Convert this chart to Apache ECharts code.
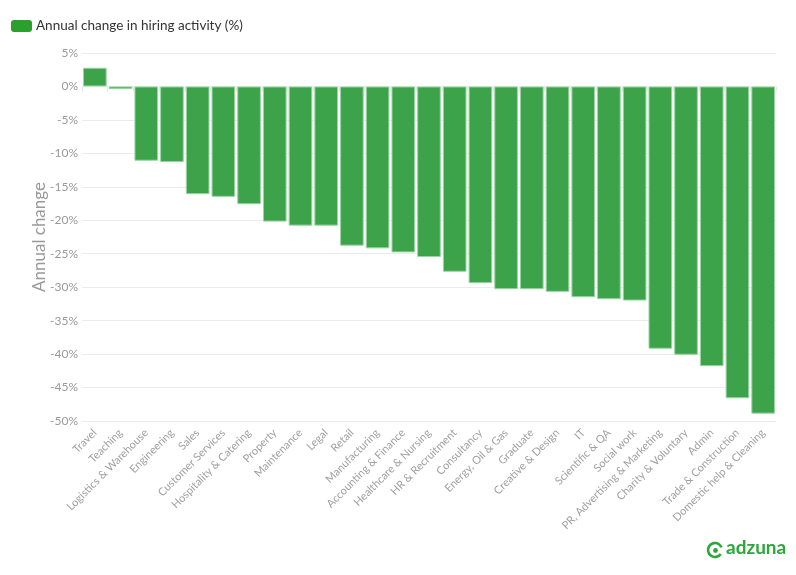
<!DOCTYPE html>
<html><head><meta charset="utf-8">
<script src="https://cdn.jsdelivr.net/npm/echarts@6/dist/echarts.min.js"></script>
<style>html,body{margin:0;padding:0;background:#fff}#c{width:796px;height:575px}</style>
</head><body><div id="c"></div>
<script>
var categories = ["Travel","Teaching","Logistics & Warehouse","Engineering","Sales","Customer Services","Hospitality & Catering","Property","Maintenance","Legal","Retail","Manufacturing","Accounting & Finance","Healthcare & Nursing","HR & Recruitment","Consultancy","Energy, Oil & Gas","Graduate","Creative & Design","IT","Scientific & QA","Social work","PR, Advertising & Marketing","Charity & Voluntary","Admin","Trade & Construction","Domestic help & Cleaning"];
var values = [2.8,-0.4,-11.1,-11.3,-16.1,-16.5,-17.6,-20.2,-20.8,-20.8,-23.8,-24.2,-24.8,-25.5,-27.7,-29.4,-30.3,-30.3,-30.7,-31.5,-31.8,-32.0,-39.2,-40.1,-41.8,-46.6,-48.9];
var seriesName = "Annual change in hiring activity (%)";
var axisTitle = "Annual change";

var chart = echarts.init(document.getElementById('c'));
chart.setOption({
  animation: false,
  textStyle: {fontFamily: 'Lato'},
  legend: {
    left: 6, top: 14, itemWidth: 21, itemHeight: 12,
    icon: 'roundRect',
    textStyle: {fontSize: 13.5, color: '#333', fontFamily: 'Lato', padding: [0,0,0,-1]},
    data: [{name: seriesName, itemStyle: {color: '#2ca02c', borderWidth: 0}}]
  },
  grid: {left: 82, right: 20, top: 53, bottom: 154},
  xAxis: {
    type: 'category', data: categories,
    axisLine: {show: false},
    axisTick: {show: true, length: 5, lineStyle: {color: '#e6e6e6'}},
    axisLabel: {rotate: 45, interval: 0, color: '#a0a0a0', fontSize: 11, margin: 10}
  },
  yAxis: {
    type: 'value', min: -50, max: 5, interval: 5,
    name: axisTitle, nameLocation: 'middle', nameGap: 34, nameMoveOverlap: false,
    nameTextStyle: {fontSize: 17, color: '#999'},
    axisLabel: {formatter: '{value}%', color: '#999', fontSize: 12, margin: 4},
    axisLine: {show: false}, axisTick: {show: false},
    splitLine: {lineStyle: {color: '#ebebeb'}}
  },
  series: [{
    name: seriesName, type: 'bar', data: values,
    barCategoryGap: '8%',
    itemStyle: {color: '#3ca34a', borderColor: '#9ad6a3', borderWidth: 1}
  }],
  graphic: [
    {type: 'arc', shape: {cx: 715, cy: 550, r: 7, startAngle: 0.6, endAngle: 5.9}, style: {stroke: '#2aa83a', lineWidth: 2.6, fill: null}},
    {type: 'circle', shape: {cx: 715.5, cy: 550.5, r: 2.4}, style: {fill: '#2aa83a'}},
    {type: 'text', left: 726, top: 538, style: {text: 'adzuna', font: 'bold 19px Lato', fill: '#2aa83a'}}
  ]
});
</script></body></html>
